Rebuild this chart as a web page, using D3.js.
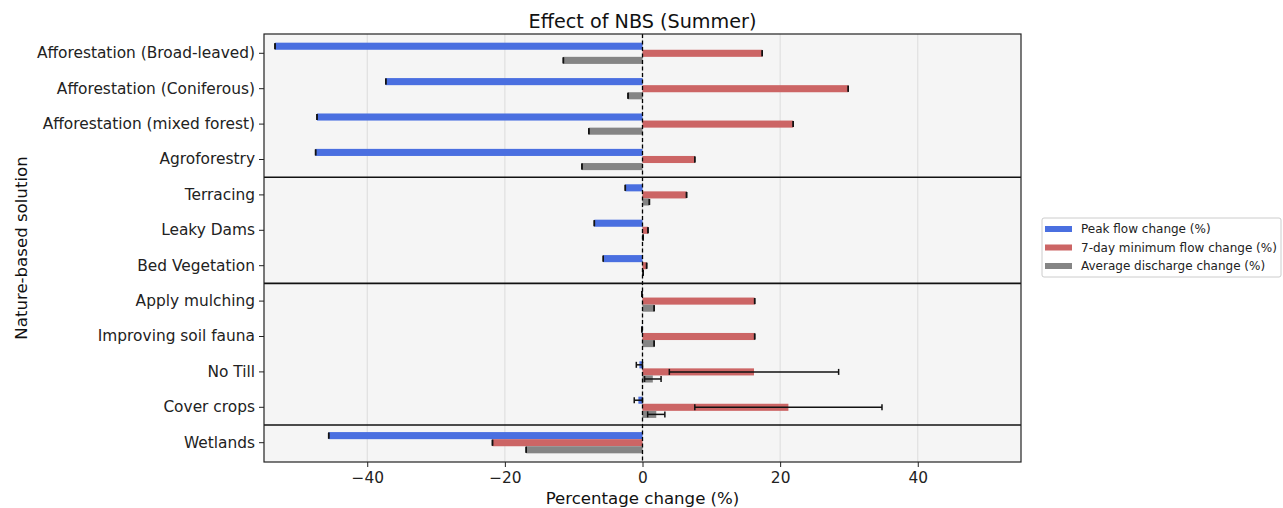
<!DOCTYPE html>
<html>
<head>
<meta charset="utf-8">
<script src="https://cdn.jsdelivr.net/npm/d3@7"></script>
<style>
  body { margin: 0; background: #fff; }
  svg, svg text { font-family: 'DejaVu Sans', sans-serif; }
</style>
</head>
<body>
<svg id="chart"></svg>
<script>
const solutions = [
  'Afforestation (Broad-leaved)', 'Afforestation (Coniferous)', 'Afforestation (mixed forest)',
  'Agroforestry', 'Terracing', 'Leaky Dams', 'Bed Vegetation', 'Apply mulching',
  'Improving soil fauna', 'No Till', 'Cover crops', 'Wetlands',
];
const seriesNames = ['Peak flow change (%)', '7-day minimum flow change (%)', 'Average discharge change (%)'];

const peakFlow = [-53.4, -37.3, -47.3, -47.5, -2.5, -7.0, -5.7, -0.1, -0.1, -0.45, -0.6, -45.6];
const minFlow = [17.4, 29.9, 21.9, 7.6, 6.4, 0.8, 0.6, 16.3, 16.3, 16.2, 21.2, -21.8];
const avgDischarge = [-11.5, -2.1, -7.8, -8.8, 1.0, 0.1, 0.1, 1.7, 1.7, 1.5, 2.0, -16.9];

const peakFlowErr = [0, 0, 0, 0, 0, 0, 0, 0, 0, 0.45, 0.6, 0];
const minFlowErr = [0, 0, 0, 0, 0, 0, 0, 0, 0, 12.3, 13.6, 0];
const avgDischargeErr = [0, 0, 0, 0, 0, 0, 0, 0, 0, 1.2, 1.25, 0];

// group boundaries (index of last item in each group)
const groupEnds = [3, 6, 10];
const xTicks = [-40, -20, 0, 20, 40];

const colors = ['#4a6fe0', '#cc6565', '#858585'];
const FONT = 'DejaVu Sans';

const width = 1283;
const height = 508;
const plot = { left: 264, right: 1021, top: 34, bottom: 462 };

const svg = d3.select('#chart')
  .attr('width', width)
  .attr('height', height)
  .attr('font-family', FONT);

const x = d3.scaleLinear()
  .domain([-55, 55])
  .range([plot.left, plot.right]);

const y = d3.scaleBand()
  .domain(solutions)
  .range([35.6, 460.4])
  .padding(0);

const step = y.step();
const barH = step * 0.2;

// background
svg.append('rect')
  .attr('x', plot.left)
  .attr('y', plot.top)
  .attr('width', plot.right - plot.left)
  .attr('height', plot.bottom - plot.top)
  .attr('fill', '#f5f5f5');

// vertical grid
svg.append('g')
  .selectAll('line')
  .data(xTicks)
  .join('line')
  .attr('x1', (d) => x(d))
  .attr('x2', (d) => x(d))
  .attr('y1', plot.top)
  .attr('y2', plot.bottom)
  .attr('stroke', '#dcdcdc')
  .attr('stroke-width', 1);

// bars
const series = [
  { values: peakFlow, errs: peakFlowErr, offset: -1 },
  { values: minFlow, errs: minFlowErr, offset: 0 },
  { values: avgDischarge, errs: avgDischargeErr, offset: 1 },
];

const barData = [];
series.forEach((s, si) => {
  s.values.forEach((v, i) => {
    barData.push({
      cat: solutions[i], value: v, err: s.errs[i], si, offset: s.offset,
    });
  });
});

const cy = (d) => y(d.cat) + step / 2 + d.offset * barH;

svg.append('g')
  .selectAll('rect')
  .data(barData)
  .join('rect')
  .attr('x', (d) => x(Math.min(0, d.value)))
  .attr('y', (d) => cy(d) - barH / 2)
  .attr('width', (d) => Math.abs(x(d.value) - x(0)))
  .attr('height', barH)
  .attr('fill', (d) => colors[d.si]);

// error bars
const errG = svg.append('g');
errG.selectAll('line.err')
  .data(barData.filter((d) => d.err > 0))
  .join('line')
  .attr('class', 'err')
  .attr('x1', (d) => x(d.value - d.err))
  .attr('x2', (d) => x(d.value + d.err))
  .attr('y1', cy)
  .attr('y2', cy)
  .attr('stroke', '#111')
  .attr('stroke-width', 1.5);

const caps = [];
barData.forEach((d) => {
  caps.push({ d, xv: d.value - d.err });
  caps.push({ d, xv: d.value + d.err });
});
errG.selectAll('line.cap')
  .data(caps)
  .join('line')
  .attr('class', 'cap')
  .attr('x1', (c) => x(c.xv))
  .attr('x2', (c) => x(c.xv))
  .attr('y1', (c) => cy(c.d) - 3)
  .attr('y2', (c) => cy(c.d) + 3)
  .attr('stroke', '#111')
  .attr('stroke-width', 1.5);

// zero line
svg.append('line')
  .attr('x1', x(0))
  .attr('x2', x(0))
  .attr('y1', plot.top)
  .attr('y2', plot.bottom)
  .attr('stroke', '#000')
  .attr('stroke-width', 1.3)
  .attr('stroke-dasharray', '4,2.5');

// group separators
svg.append('g')
  .selectAll('line')
  .data(groupEnds)
  .join('line')
  .attr('x1', plot.left)
  .attr('x2', plot.right)
  .attr('y1', (i) => y(solutions[i]) + step)
  .attr('y2', (i) => y(solutions[i]) + step)
  .attr('stroke', '#111')
  .attr('stroke-width', 1.6);

// frame
svg.append('rect')
  .attr('x', plot.left)
  .attr('y', plot.top)
  .attr('width', plot.right - plot.left)
  .attr('height', plot.bottom - plot.top)
  .attr('fill', 'none')
  .attr('stroke', '#222')
  .attr('stroke-width', 1.2);

// axes
const xAxis = svg.append('g')
  .attr('transform', `translate(0,${plot.bottom})`)
  .call(d3.axisBottom(x).tickValues(xTicks).tickSize(5).tickPadding(5)
    .tickFormat((d) => (d < 0 ? `\u2212${Math.abs(d)}` : `${d}`)))
  .attr('font-family', FONT)
  .attr('font-size', 15.4);
xAxis.select('.domain').remove();
xAxis.selectAll('.tick line').attr('stroke', '#222');
xAxis.selectAll('.tick text').attr('fill', '#222');

const yAxis = svg.append('g')
  .attr('transform', `translate(${plot.left},0)`)
  .call(d3.axisLeft(y).tickSize(5).tickPadding(4))
  .attr('font-family', FONT)
  .attr('font-size', 15.4);
yAxis.select('.domain').remove();
yAxis.selectAll('.tick line').attr('stroke', '#222');
yAxis.selectAll('.tick text').attr('fill', '#222');

// labels
svg.append('text')
  .attr('x', (plot.left + plot.right) / 2)
  .attr('y', 28)
  .attr('text-anchor', 'middle')
  .attr('font-size', 19.2)
  .attr('fill', '#111')
  .text('Effect of NBS (Summer)');

svg.append('text')
  .attr('x', (plot.left + plot.right) / 2)
  .attr('y', 504)
  .attr('text-anchor', 'middle')
  .attr('font-size', 16.6)
  .attr('fill', '#111')
  .text('Percentage change (%)');

svg.append('text')
  .attr('transform', `translate(27,${(plot.top + plot.bottom) / 2}) rotate(-90)`)
  .attr('text-anchor', 'middle')
  .attr('font-size', 16.6)
  .attr('fill', '#111')
  .text('Nature-based solution');

// legend
const legend = svg.append('g').attr('transform', 'translate(1042,218)');
legend.append('rect')
  .attr('width', 239)
  .attr('height', 59)
  .attr('rx', 2)
  .attr('fill', '#fff')
  .attr('stroke', '#ccc');
const items = legend.selectAll('g')
  .data(seriesNames)
  .join('g')
  .attr('transform', (_, i) => `translate(0,${11 + i * 18.5})`);
items.append('rect')
  .attr('x', 3)
  .attr('y', -3)
  .attr('width', 27)
  .attr('height', 6)
  .attr('fill', (_, i) => colors[i]);
items.append('text')
  .attr('x', 39)
  .attr('y', 4)
  .attr('font-size', 12)
  .attr('fill', '#222')
  .text((d) => d);
</script>
</body>
</html>
